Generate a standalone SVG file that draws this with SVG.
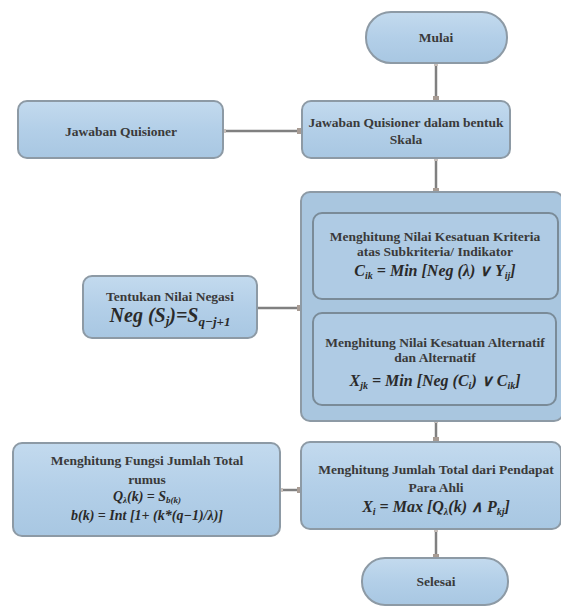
<svg xmlns="http://www.w3.org/2000/svg" width="561" height="611" viewBox="0 0 561 611">
<defs>
<linearGradient id="g" x1="0" y1="0" x2="0" y2="1">
<stop offset="0" stop-color="#c3daee"/>
<stop offset="0.5" stop-color="#b3cfe8"/>
<stop offset="1" stop-color="#a8c7e2"/>
</linearGradient>
<marker id="sq" markerWidth="6" markerHeight="6" refX="3" refY="3" markerUnits="userSpaceOnUse">
<rect x="0" y="0" width="6" height="6" fill="#a89c94"/>
</marker>
<marker id="sq0" markerWidth="4" markerHeight="4" refX="2" refY="2" markerUnits="userSpaceOnUse">
<rect x="0" y="0" width="4" height="4" fill="#c8c0bb"/>
</marker>
</defs>
<style>
.box{fill:url(#g);stroke:#8d9aa5;stroke-width:2}
.big{fill:#a9c6df;stroke:#8d9aa5;stroke-width:2}
.inner{fill:#afcbe4;stroke:#7a8b98;stroke-width:2}
.t{font-family:"Liberation Serif",serif;font-size:13.5px;fill:#3a3a3a;text-anchor:middle;font-weight:bold}
.f{font-family:"Liberation Serif",serif;font-size:16px;fill:#2a2a2a;text-anchor:middle;font-weight:bold;font-style:italic}
.s{font-size:10px}
.c{stroke:#808080;stroke-width:2.5;fill:none;marker-end:url(#sq);marker-start:url(#sq0)}
</style>
<g id="connectors">
<line class="c" x1="436" y1="64" x2="436" y2="99"/>
<line class="c" x1="224" y1="131" x2="300" y2="131"/>
<line class="c" x1="436" y1="159" x2="436" y2="191"/>
<line class="c" x1="256" y1="308" x2="300" y2="308"/>
<line class="c" x1="436" y1="421" x2="436" y2="440"/>
<line class="c" x1="281" y1="490" x2="300" y2="490"/>
<line class="c" x1="436" y1="530" x2="436" y2="557"/>
</g>
<g id="mulai">
<rect class="box" x="366" y="12" width="141" height="51" rx="25"/>
<text class="t" x="436" y="42">Mulai</text>
</g>
<g id="jawaban">
<rect class="box" x="18" y="101" width="205" height="57" rx="9"/>
<text class="t" x="121" y="136">Jawaban Quisioner</text>
</g>
<g id="skala">
<rect class="box" x="302" y="101" width="208" height="57" rx="9"/>
<text class="t" x="406" y="127">Jawaban Quisioner dalam bentuk</text>
<text class="t" x="406" y="144">Skala</text>
</g>
<g id="container">
<rect class="big" x="301" y="192" width="262" height="229" rx="9"/>
</g>
<g id="kriteria">
<rect class="inner" x="313" y="213" width="245" height="86" rx="9"/>
<text class="t" x="435" y="241">Menghitung Nilai Kesatuan Kriteria</text>
<text class="t" x="435" y="256">atas Subkriteria/ Indikator</text>
<text class="f" x="435" y="276">C<tspan class="s" dy="3">ik</tspan><tspan dy="-3"> = Min [Neg (λ) ∨ Y</tspan><tspan class="s" dy="3">ij</tspan><tspan dy="-3">]</tspan></text>
</g>
<g id="alternatif">
<rect class="inner" x="313" y="313" width="243" height="92" rx="9"/>
<text class="t" x="435" y="347">Menghitung Nilai Kesatuan Alternatif</text>
<text class="t" x="435" y="362">dan Alternatif</text>
<text class="f" x="435" y="386">X<tspan class="s" dy="3">jk</tspan><tspan dy="-3"> = Min [Neg (C</tspan><tspan class="s" dy="3">i</tspan><tspan dy="-3">) ∨ C</tspan><tspan class="s" dy="3">ik</tspan><tspan dy="-3">]</tspan></text>
</g>
<g id="negasi">
<rect class="box" x="83" y="276" width="174" height="62" rx="9"/>
<text class="t" x="170" y="301">Tentukan Nilai Negasi</text>
<text class="f" x="170" y="322" style="font-size:20px">Neg (S<tspan style="font-size:13px" dy="3">j</tspan><tspan dy="-3">)=S</tspan><tspan style="font-size:13px" dy="4">q−j+1</tspan></text>
</g>
<g id="fungsi">
<rect class="box" x="13" y="443" width="267" height="93" rx="9"/>
<text class="t" x="147" y="465">Menghitung Fungsi Jumlah Total</text>
<text class="t" x="147" y="484">rumus</text>
<text class="f" x="147" y="501" style="font-size:14px">Q<tspan style="font-size:9px" dy="2">λ</tspan><tspan dy="-2">(k) = S</tspan><tspan style="font-size:9px" dy="2">b(k)</tspan></text>
<text class="f" x="147" y="520" style="font-size:14px">b(k) = Int [1+ (k*(q−1)/λ)]</text>
</g>
<g id="ahli">
<rect class="box" x="301" y="442" width="260" height="87" rx="9"/>
<text class="t" x="436" y="474">Menghitung Jumlah Total dari Pendapat</text>
<text class="t" x="436" y="492">Para Ahli</text>
<text class="f" x="436" y="512">X<tspan class="s" dy="3">i</tspan><tspan dy="-3"> = Max [Q</tspan><tspan class="s" dy="3">λ</tspan><tspan dy="-3">(k) ∧ P</tspan><tspan class="s" dy="3">kj</tspan><tspan dy="-3">]</tspan></text>
</g>
<g id="selesai">
<rect class="box" x="362" y="558" width="146" height="47" rx="23"/>
<text class="t" x="436" y="586">Selesai</text>
</g>
</svg>
